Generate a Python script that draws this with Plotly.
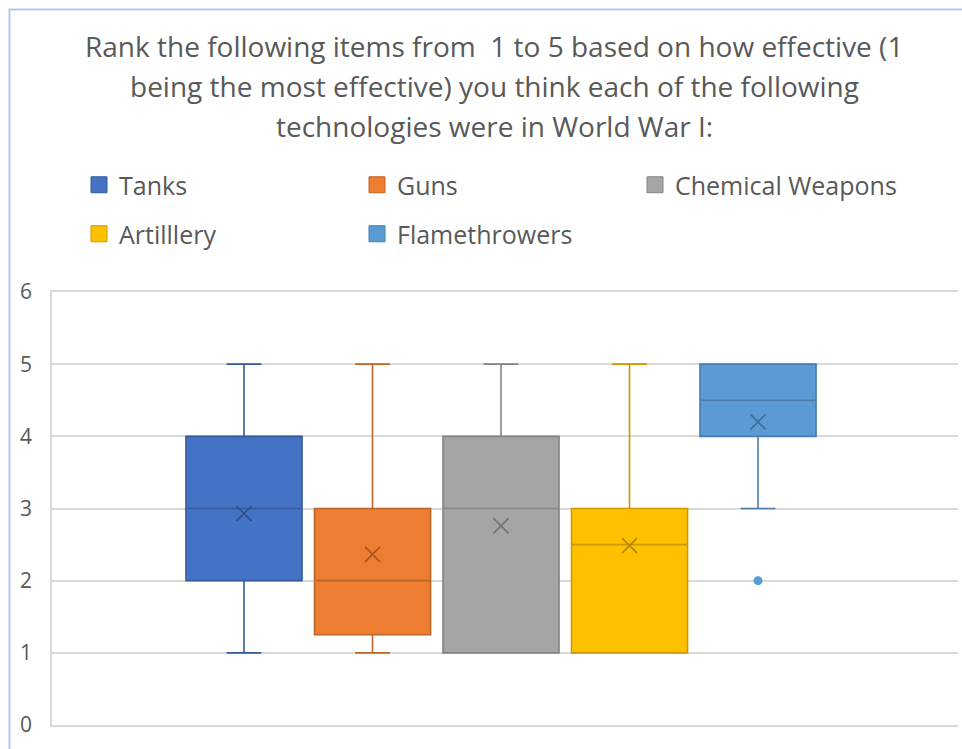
import plotly.graph_objects as go

# Survey summary: rank 1 (most effective) to 5 (least effective)
series = ["Tanks", "Guns", "Chemical Weapons", "Artilllery", "Flamethrowers"]
lower_whisker = [1, 1, 1, 1, 3]
q1 = [2, 1.25, 1, 1, 4]
median = [3, 2, 3, 2.5, 4.5]
q3 = [4, 3, 4, 3, 5]
upper_whisker = [5, 5, 5, 5, 5]
means = [2.93, 2.365, 2.76, 2.485, 4.2]
outliers = [[], [], [], [], [2]]

colors = ["#4472C4", "#ED7D31", "#A5A5A5", "#FFC000", "#5B9BD5"]
title_lines = [
    "Rank the following items from  1 to 5 based on how effective (1",
    "being the most effective) you think each of the following",
    "technologies were in World War I:",
]
y_ticks = [0, 1, 2, 3, 4, 5, 6]

FONT = "Open Sans"
TEXT = "#595959"
GRID = "#D9D9D9"
W, H = 962, 749
ML, MR, MT, MB = 52, 4, 292, 24


def shade(hex_color, f):
    r, g, b = (int(hex_color[i:i + 2], 16) for i in (1, 3, 5))
    return "#%02x%02x%02x" % (int(r * f), int(g * f), int(b * f))


def px_x(px):
    return (px - ML) / (W - ML - MR)


def px_y(py):
    return (H - MB - py) / (H - MT - MB)


fig = go.Figure()

for i, name in enumerate(series):
    col = colors[i]
    dark = shade(col, 0.8)
    fig.add_trace(go.Box(
        x=[name], q1=[q1[i]], median=[median[i]], q3=[q3[i]],
        lowerfence=[lower_whisker[i]], upperfence=[upper_whisker[i]],
        fillcolor=col, line=dict(color=dark, width=1.6),
        whiskerwidth=0.3, boxpoints=False, showlegend=False,
        hoverinfo="skip",
    ))
    # mean marker
    fig.add_trace(go.Scatter(
        x=[name], y=[means[i]], mode="markers",
        marker=dict(symbol="x-thin", size=15, line=dict(color=shade(col, 0.7), width=1.6)),
        showlegend=False, hoverinfo="skip",
    ))
    if outliers[i]:
        fig.add_trace(go.Scatter(
            x=[name] * len(outliers[i]), y=outliers[i], mode="markers",
            marker=dict(symbol="circle", size=9, color=col),
            showlegend=False, hoverinfo="skip",
        ))
    # legend entry
    fig.add_trace(go.Scatter(
        x=[None], y=[None], mode="markers", name=name,
        marker=dict(symbol="square", size=16, color=col, line=dict(color=dark, width=1)),
        legend="legend" if i < 3 else "legend2",
    ))

annotations = []
for k, line in enumerate(title_lines):
    annotations.append(dict(
        text=line, xref="paper", yref="paper", x=px_x(494), y=px_y(46 + 40 * k),
        xanchor="center", yanchor="middle", showarrow=False,
        font=dict(family=FONT, size=28, color=TEXT),
    ))

legend_common = dict(
    orientation="h", xanchor="left", yanchor="middle",
    font=dict(family=FONT, size=25, color=TEXT),
    entrywidth=233, entrywidthmode="pixels", bgcolor="rgba(0,0,0,0)",
    itemclick=False, itemdoubleclick=False,
)

fig.update_layout(
    width=W, height=H,
    margin=dict(l=ML, r=MR, t=MT, b=MB, pad=0),
    paper_bgcolor="white", plot_bgcolor="white",
    boxmode="overlay", boxgap=0.097, boxgroupgap=0,
    showlegend=True,
    legend=dict(x=px_x(79), y=px_y(185), **legend_common),
    legend2=dict(x=px_x(79), y=px_y(234), **legend_common),
    annotations=annotations,
    xaxis=dict(
        categoryorder="array", categoryarray=series,
        range=[-1.494, 5.556], showticklabels=False, showgrid=False,
        zeroline=False, showline=True, mirror=True, linecolor=GRID,
        linewidth=1.5, ticks="",
    ),
    yaxis=dict(
        range=[0, 6], tickvals=y_ticks, showgrid=True, gridcolor=GRID,
        gridwidth=1.5, zeroline=False, showline=True, linecolor=GRID,
        linewidth=1.5, ticks="", ticklabelstandoff=14,
        tickfont=dict(family=FONT, size=21, color=TEXT),
    ),
    shapes=[dict(
        type="path", xref="paper", yref="paper",
        path="M %f,%f L %f,%f L %f,%f" % (px_x(9.5), px_y(H + 2), px_x(9.5), px_y(9.5), px_x(W + 2), px_y(9.5)),
        line=dict(color="#B4C8EA", width=2),
    )],
)

fig.write_html("out.html")
